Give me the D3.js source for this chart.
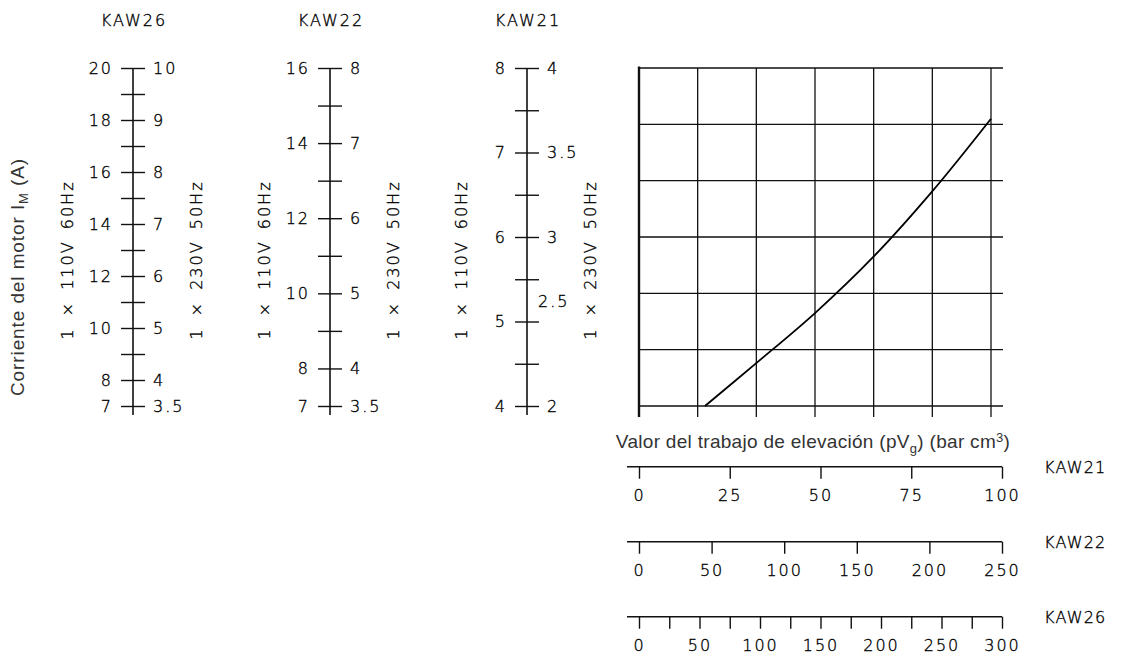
<!DOCTYPE html>
<html>
<head>
  <meta charset="utf-8">
  <title>KAW motor current</title>
  <script src="https://d3js.org/d3.v7.min.js"></script>
  <style>
    body { margin: 0; background: #fff; }
    .thin text, text.thin {
      font-family: "DejaVu Sans", sans-serif;
      font-weight: 200;
      font-size: 16px;
      letter-spacing: 2px;
      fill: #000;
      stroke: #000;
      stroke-width: 0.35px;
    }
    .arial {
      font-family: "Liberation Sans", Arial, sans-serif;
      font-size: 19px;
      fill: #333;
    }
    .axis line, .axis path { stroke: #111; stroke-width: 1.4; }
  </style>
</head>
<body>
<svg id="chart" width="1121" height="656"></svg>
<script>
  // vertical current scales (110V left, 230V right)
  var models = ["KAW26", "KAW22", "KAW21"];
  var kaw26Domain110 = [7, 20], kaw26Domain230 = [3.5, 10];
  var kaw22Domain110 = [7, 16], kaw22Domain230 = [3.5, 8];
  var kaw21Domain110 = [4, 8], kaw21Domain230 = [2, 4];
  var kaw26Ticks = [20, 19, 18, 17, 16, 15, 14, 13, 12, 11, 10, 9, 8, 7];
  var kaw22Ticks = [16, 15, 14, 13, 12, 11, 10, 9, 8, 7];
  var kaw21Ticks = [8, 7.5, 7, 6.5, 6, 5.5, 5, 4.5, 4];
  var kaw26Labels110 = [20, 18, 16, 14, 12, 10, 8, 7];
  var kaw26Labels230 = [10, 9, 8, 7, 6, 5, 4, 3.5];
  var kaw22Labels110 = [16, 14, 12, 10, 8, 7];
  var kaw22Labels230 = [8, 7, 6, 5, 4, 3.5];
  var kaw21Labels110 = [8, 7, 6, 5, 4];
  var kaw21Labels230 = [4, 3.5, 3, 2.5, 2];

  // horizontal pVg scales (bar cm3)
  var pvModels = ["KAW21", "KAW22", "KAW26"];
  var pvMax = [100, 250, 300];
  var pvTicks = [[0, 25, 50, 75, 100], [0, 50, 100, 150, 200, 250],
                 [0, 25, 50, 75, 100, 125, 150, 175, 200, 225, 250, 275, 300]];
  var pvLabelStep = [25, 50, 50];

  // curve, read in KAW21 units: pVg (0-100) vs current 110V (A)
  var curvePv = [18.75, 33.4, 50, 66.7, 83.3, 100];
  var curveI = [4.0, 4.51, 5.10, 5.77, 6.54, 7.40];

  var svg = d3.select("#chart");
  var yTop = 68, yBottom = 406;
  var fmt = d3.format("~g");

  // ---- the three vertical scales
  var axisX = [133, 330, 527];
  var domains110 = [kaw26Domain110, kaw22Domain110, kaw21Domain110];
  var domains230 = [kaw26Domain230, kaw22Domain230, kaw21Domain230];
  var allTicks = [kaw26Ticks, kaw22Ticks, kaw21Ticks];
  var labels110 = [kaw26Labels110, kaw22Labels110, kaw21Labels110];
  var labels230 = [kaw26Labels230, kaw22Labels230, kaw21Labels230];

  models.forEach(function (m, i) {
    var y110 = d3.scaleLinear().domain(domains110[i]).range([yBottom, yTop]);
    var y230 = d3.scaleLinear().domain(domains230[i]).range([yBottom, yTop]);
    var g = svg.append("g").attr("transform", "translate(" + axisX[i] + ",0)");

    g.append("line").attr("x1", 0).attr("x2", 0)
      .attr("y1", yTop).attr("y2", yBottom + 9)
      .attr("stroke", "#111").attr("stroke-width", 1.6);

    var left = g.append("g").attr("class", "axis thin")
      .call(d3.axisLeft(y110).tickValues(allTicks[i]).tickSize(12).tickPadding(8)
        .tickFormat(function (d) { return labels110[i].indexOf(d) >= 0 ? fmt(d) : ""; }));
    left.select(".domain").remove();

    var right = g.append("g").attr("class", "axis thin")
      .call(d3.axisRight(y230).tickValues(allTicks[i].map(function (d) {
          return Math.round(y230.invert(y110(d)) * 1000) / 1000; }))
        .tickSize(12).tickPadding(8)
        .tickFormat(function (d) { return labels230[i].indexOf(d) >= 0 ? fmt(d) : ""; }));
    right.select(".domain").remove();
    // the 2.5 label on KAW21 sits higher and closer to the axis
    right.selectAll(".tick text").filter(function (d) { return i === 2 && d === 2.5; })
      .attr("x", 11).attr("y", -20);

    g.append("text").attr("class", "thin").attr("text-anchor", "middle")
      .attr("x", 1).attr("y", 26).text(m);

    g.append("text").attr("class", "thin").attr("text-anchor", "middle")
      .attr("transform", "translate(-60,260) rotate(-90)")
      .style("word-spacing", "4px")
      .text("1 × 110V 60Hz");
    g.append("text").attr("class", "thin").attr("text-anchor", "middle")
      .attr("transform", "translate(69,260) rotate(-90)")
      .style("word-spacing", "4px")
      .text("1 × 230V 50Hz");
  });

  // y title
  var yt = svg.append("text").attr("class", "arial").attr("text-anchor", "middle")
    .style("letter-spacing", "0.9px")
    .attr("transform", "translate(24,277) rotate(-90)");
  yt.append("tspan").text("Corriente del motor I");
  yt.append("tspan").attr("font-size", 13).attr("dy", 4).text("M");
  yt.append("tspan").attr("dy", -4).text(" (A)");

  // ---- grid plot
  var x = d3.scaleLinear().domain([0, 100]).range([639, 991]);
  var y = d3.scaleLinear().domain(kaw21Domain110).range([yBottom, yTop]);
  var plot = svg.append("g");
  var cols = d3.range(7).map(function (k) { return k * 100 / 6; });
  var rows = d3.range(7).map(function (k) { return 4 + k * 4 / 6; });

  plot.selectAll(".vline").data(cols).enter().append("line")
    .attr("x1", x).attr("x2", x)
    .attr("y1", function (d, k) { return k === 0 ? yTop - 1.5 : yTop; })
    .attr("y2", yBottom + 11)
    .attr("stroke", "#111")
    .attr("stroke-width", function (d, k) { return k === 0 ? 2.4 : 1.3; });
  plot.selectAll(".hline").data(rows).enter().append("line")
    .attr("x1", x(0)).attr("x2", x(100) + 12)
    .attr("y1", y).attr("y2", y)
    .attr("stroke", "#111").attr("stroke-width", 1.3);

  plot.append("path")
    .datum(d3.zip(curvePv, curveI))
    .attr("fill", "none").attr("stroke", "#000").attr("stroke-width", 1.8)
    .attr("d", d3.line()
      .x(function (d) { return x(d[0]); })
      .y(function (d) { return y(d[1]); })
      .curve(d3.curveCatmullRom));

  // x title
  var xt = svg.append("text").attr("class", "arial").attr("text-anchor", "middle")
    .style("letter-spacing", "0.3px")
    .attr("x", 813).attr("y", 448);
  xt.append("tspan").text("Valor del trabajo de elevación (pV");
  xt.append("tspan").attr("font-size", 13).attr("dy", 5).text("g");
  xt.append("tspan").attr("dy", -5).text(") (bar cm");
  xt.append("tspan").attr("font-size", 13).attr("dy", -6).text("3");
  xt.append("tspan").attr("dy", 6).text(")");

  // ---- the three pVg scales
  var rowY = [466.7, 541.7, 616.7];
  pvModels.forEach(function (m, i) {
    var px = d3.scaleLinear().domain([0, pvMax[i]]).range([639, 1002]);
    var g = svg.append("g").attr("transform", "translate(0," + rowY[i] + ")");
    g.append("line").attr("x1", px(0) - 12).attr("x2", px(pvMax[i]))
      .attr("stroke", "#111").attr("stroke-width", 1.6);
    var ax = g.append("g").attr("class", "axis thin")
      .call(d3.axisBottom(px).tickValues(pvTicks[i]).tickSize(12).tickPadding(11)
        .tickFormat(function (d) { return d % pvLabelStep[i] === 0 ? fmt(d) : ""; }));
    ax.select(".domain").remove();
    g.append("text").attr("class", "thin").attr("x", 1044).attr("y", 6)
      .style("letter-spacing", "1.2px").text(m);
  });
</script>
</body>
</html>
